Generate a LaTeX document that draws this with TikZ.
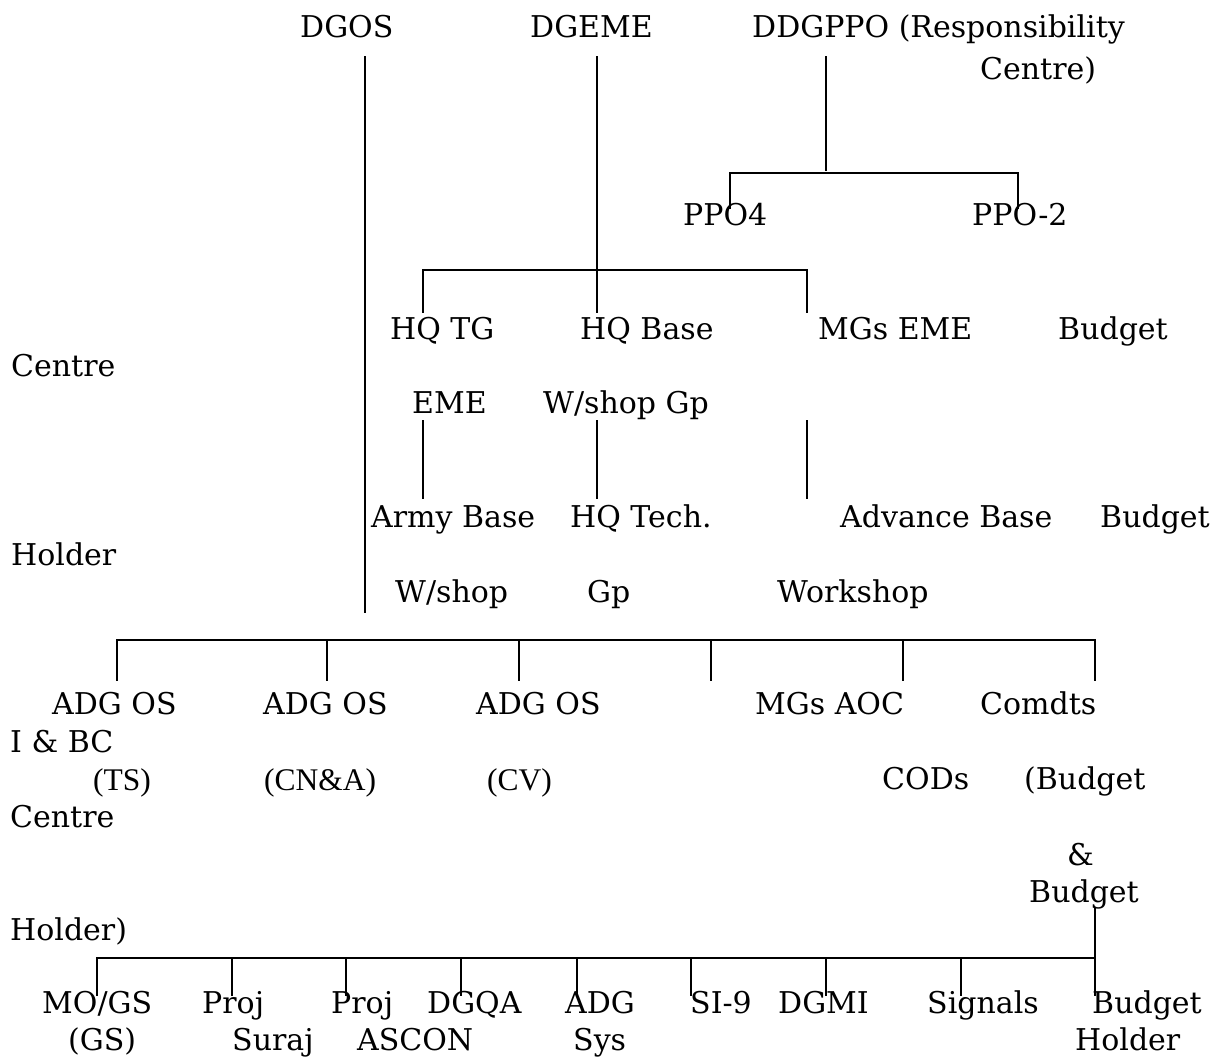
\documentclass[tikz,border=0pt]{standalone}
\usepackage{fontspec}
\setmainfont{DejaVu Serif}
\newfontfamily\tmsfont{Liberation Serif}
\begin{document}
\begin{tikzpicture}[x=1pt,y=-1pt,
  lbl/.style={anchor=base west,inner sep=0pt,font=\fontsize{30}{36}\selectfont},
  tms/.style={anchor=base west,inner sep=0pt,font=\tmsfont\fontsize{31.5}{36}\selectfont},
  ln/.style={line width=1.9pt,line cap=rect}]
\useasboundingbox (0,0) rectangle (1213,1059);
% texts
\node[lbl] (dgos) at (300,38) {DGOS};
\node[lbl] (dgeme) at (530,38) {DGEME};
\node[lbl] (ddg) at (752,38) {DDGPPO (Responsibility};
\node[lbl] (ddgb) at (980,80) {Centre)};
\node[lbl] (ppo4) at (683,226) {PPO4};
\node[lbl] (ppo2) at (972,226) {PPO-2};
\node[lbl] (hqtg) at (390,340) {HQ TG};
\node[lbl] (hqbase) at (580,340) {HQ Base};
\node[lbl] (mgseme) at (818,340) {MGs EME};
\node[lbl] (bud1) at (1058,340) {Budget};
\node[lbl] (cen1) at (11,377) {Centre};
\node[lbl] (eme) at (412,413) {EME};
\node[lbl] (wsg) at (543,413) {W/shop Gp};
\node[lbl] (abase) at (371,527) {Army Base};
\node[lbl] (hqtech) at (570,527) {HQ Tech.};
\node[lbl] (adv) at (840,527) {Advance Base};
\node[lbl] (bud2) at (1100,527) {Budget};
\node[lbl] (hold1) at (11,565) {Holder};
\node[lbl] (ws) at (395,602) {W/shop};
\node[lbl] (gp) at (587,602) {Gp};
\node[lbl] (wksp) at (777,602) {Workshop};
\node[lbl] (adg1) at (52,714) {ADG OS};
\node[lbl] (adg2) at (263,714) {ADG OS};
\node[lbl] (adg3) at (476,714) {ADG OS};
\node[lbl] (mgsaoc) at (755,714) {MGs AOC};
\node[lbl] (comdts) at (980,714) {Comdts};
\node[lbl] (ibc) at (10,752) {I \& BC};
\node[tms] (ts) at (93,790) {(TS)};
\node[tms] (cna) at (264,790) {(CN\&A)};
\node[tms] (cv) at (487,790) {(CV)};
\node[lbl] (cods) at (882,789) {CODs};
\node[lbl] (bud3) at (1024,789) {(Budget};
\node[lbl] (cen2) at (10,827) {Centre};
\node[lbl] (amp) at (1067,865) {\&};
\node[lbl] (bud4) at (1029,902) {Budget};
\node[lbl] (hold2) at (10,940) {Holder)};
\node[lbl] (mogs) at (42,1013) {MO/GS};
\node[lbl] (proj1) at (202,1013) {Proj};
\node[lbl] (proj2) at (331,1013) {Proj};
\node[lbl] (dgqa) at (427,1013) {DGQA};
\node[lbl] (adgs) at (565,1013) {ADG};
\node[lbl] (si9) at (690,1013) {SI-9};
\node[lbl] (dgmi) at (778,1013) {DGMI};
\node[lbl] (sig) at (927,1013) {Signals};
\node[lbl] (bud5) at (1092,1013) {Budget};
\node[lbl] (gs) at (68,1050) {(GS)};
\node[lbl] (suraj) at (232,1050) {Suraj};
\node[lbl] (ascon) at (357,1050) {ASCON};
\node[lbl] (sys) at (573,1050) {Sys};
\node[lbl] (hold3) at (1075,1050) {Holder};
% coordinates
\coordinate (a1) at (365,57);   \coordinate (a2) at (365,612);
\coordinate (b1) at (597,57);   \coordinate (b2) at (597,312);
\coordinate (bl) at (423,270);  \coordinate (br) at (807,270);
\coordinate (c1) at (826,57);   \coordinate (c2) at (826,170);
\coordinate (pl) at (730,173);  \coordinate (pr) at (1018,173);
\coordinate (pld) at (730,208); \coordinate (prd) at (1018,208);
\coordinate (e1) at (423,421);  \coordinate (e2) at (423,498);
\coordinate (f1) at (597,421);  \coordinate (f2) at (597,498);
\coordinate (g1) at (807,421);  \coordinate (g2) at (807,498);
\coordinate (hl) at (117,640);  \coordinate (hr) at (1095,640);
\coordinate (k1) at (1095,908); \coordinate (kl) at (97,958); \coordinate (kr) at (1095,958);
% connectors
\draw[ln] (a1) -- (a2);
\draw[ln] (b1) -- (b2);
\draw[ln] (bl |- b2) -- (bl) -- (br) -- (br |- b2);
\draw[ln] (c1) -- (c2);
\draw[ln] (pld) -- (pl) -- (pr) -- (prd);
\draw[ln] (e1) -- (e2);
\draw[ln] (f1) -- (f2);
\draw[ln] (g1) -- (g2);
\draw[ln] (hl) -- (hr);
\foreach \x in {117,327,519,711,903,1095} \draw[ln] (\x,640) -- (\x,680);
\draw[ln] (k1) -- (kr);
\draw[ln] (kl) -- (kr);
\foreach \x in {97,232,346,461,577,691,826,961,1095} \draw[ln] (\x,958) -- (\x,995);
\end{tikzpicture}
\end{document}
